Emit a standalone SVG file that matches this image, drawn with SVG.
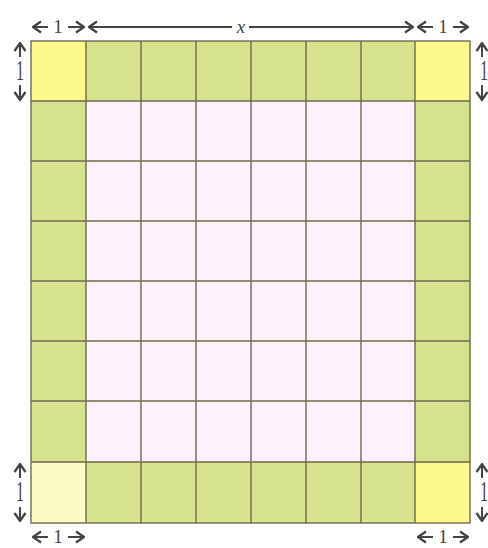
<svg xmlns="http://www.w3.org/2000/svg" width="488" height="548" viewBox="0 0 488 548">
<style>
.g{fill:#d6e38c}
.y{fill:#fcfa8c}
.ly{fill:#fdfbc4}
.p{fill:#fdf1fb}
.grid{stroke:#6e6a4e;stroke-width:1.4;fill:none}
.dim{stroke:#444;stroke-width:2;fill:none}
.t{font-family:"Liberation Serif",serif;font-size:19px;fill:#444;text-anchor:middle}
</style>
<defs>
<marker id="ah" viewBox="0 0 10 14" refX="9" refY="7" markerWidth="10" markerHeight="14" markerUnits="userSpaceOnUse" orient="auto">
<path d="M1,1.5 L9,7 L1,12.5" fill="none" stroke="#444" stroke-width="2.3"/>
</marker>
</defs>
<g id="cells">
<rect class="p" x="86" y="101" width="329" height="361"/>
<rect class="y" x="31" y="41" width="55" height="60"/>
<rect class="y" x="415" y="41" width="55" height="60"/>
<rect class="ly" x="31" y="462" width="55" height="61"/>
<rect class="y" x="415" y="462" width="55" height="61"/>
<rect class="g" x="86" y="41" width="329" height="60"/>
<rect class="g" x="86" y="462" width="329" height="61"/>
<rect class="g" x="31" y="101" width="55" height="361"/>
<rect class="g" x="415" y="101" width="55" height="361"/>
</g>
<g id="grid" class="grid">
<rect x="31" y="41" width="439" height="482"/>
<path d="M86,41V523M141,41V523M196,41V523M251,41V523M306,41V523M361,41V523M415,41V523"/>
<path d="M31,101H470M31,161H470M31,221H470M31,281H470M31,341H470M31,401H470M31,462H470"/>
</g>
<g id="connectors" class="dim">
<line x1="48" y1="27" x2="33" y2="27" marker-end="url(#ah)"/>
<line x1="68" y1="27" x2="84" y2="27" marker-end="url(#ah)"/>
<line x1="232" y1="27" x2="89" y2="27" marker-end="url(#ah)"/>
<line x1="249" y1="27" x2="413" y2="27" marker-end="url(#ah)"/>
<line x1="433" y1="27" x2="418" y2="27" marker-end="url(#ah)"/>
<line x1="453" y1="27" x2="468" y2="27" marker-end="url(#ah)"/>
<line x1="48" y1="537" x2="33" y2="537" marker-end="url(#ah)"/>
<line x1="68" y1="537" x2="84" y2="537" marker-end="url(#ah)"/>
<line x1="433" y1="537" x2="418" y2="537" marker-end="url(#ah)"/>
<line x1="453" y1="537" x2="468" y2="537" marker-end="url(#ah)"/>
<line x1="20" y1="57" x2="20" y2="43" marker-end="url(#ah)"/>
<line x1="20" y1="85" x2="20" y2="100" marker-end="url(#ah)"/>
<line x1="482" y1="57" x2="482" y2="43" marker-end="url(#ah)"/>
<line x1="482" y1="85" x2="482" y2="100" marker-end="url(#ah)"/>
<line x1="20" y1="478" x2="20" y2="464" marker-end="url(#ah)"/>
<line x1="20" y1="507" x2="20" y2="521" marker-end="url(#ah)"/>
<line x1="482" y1="478" x2="482" y2="464" marker-end="url(#ah)"/>
<line x1="482" y1="507" x2="482" y2="521" marker-end="url(#ah)"/>
</g>
<g id="labels" class="t">
<text x="58" y="33">1</text>
<text x="241" y="33" font-style="italic">x</text>
<text x="443" y="33">1</text>
<text x="58" y="543">1</text>
<text x="443" y="543">1</text>
<text transform="translate(20,80) scale(0.85,1.6)">1</text>
<text transform="translate(484,80) scale(0.85,1.6)">1</text>
<text transform="translate(20,501) scale(0.85,1.6)">1</text>
<text transform="translate(484,501) scale(0.85,1.6)">1</text>
</g>
</svg>
